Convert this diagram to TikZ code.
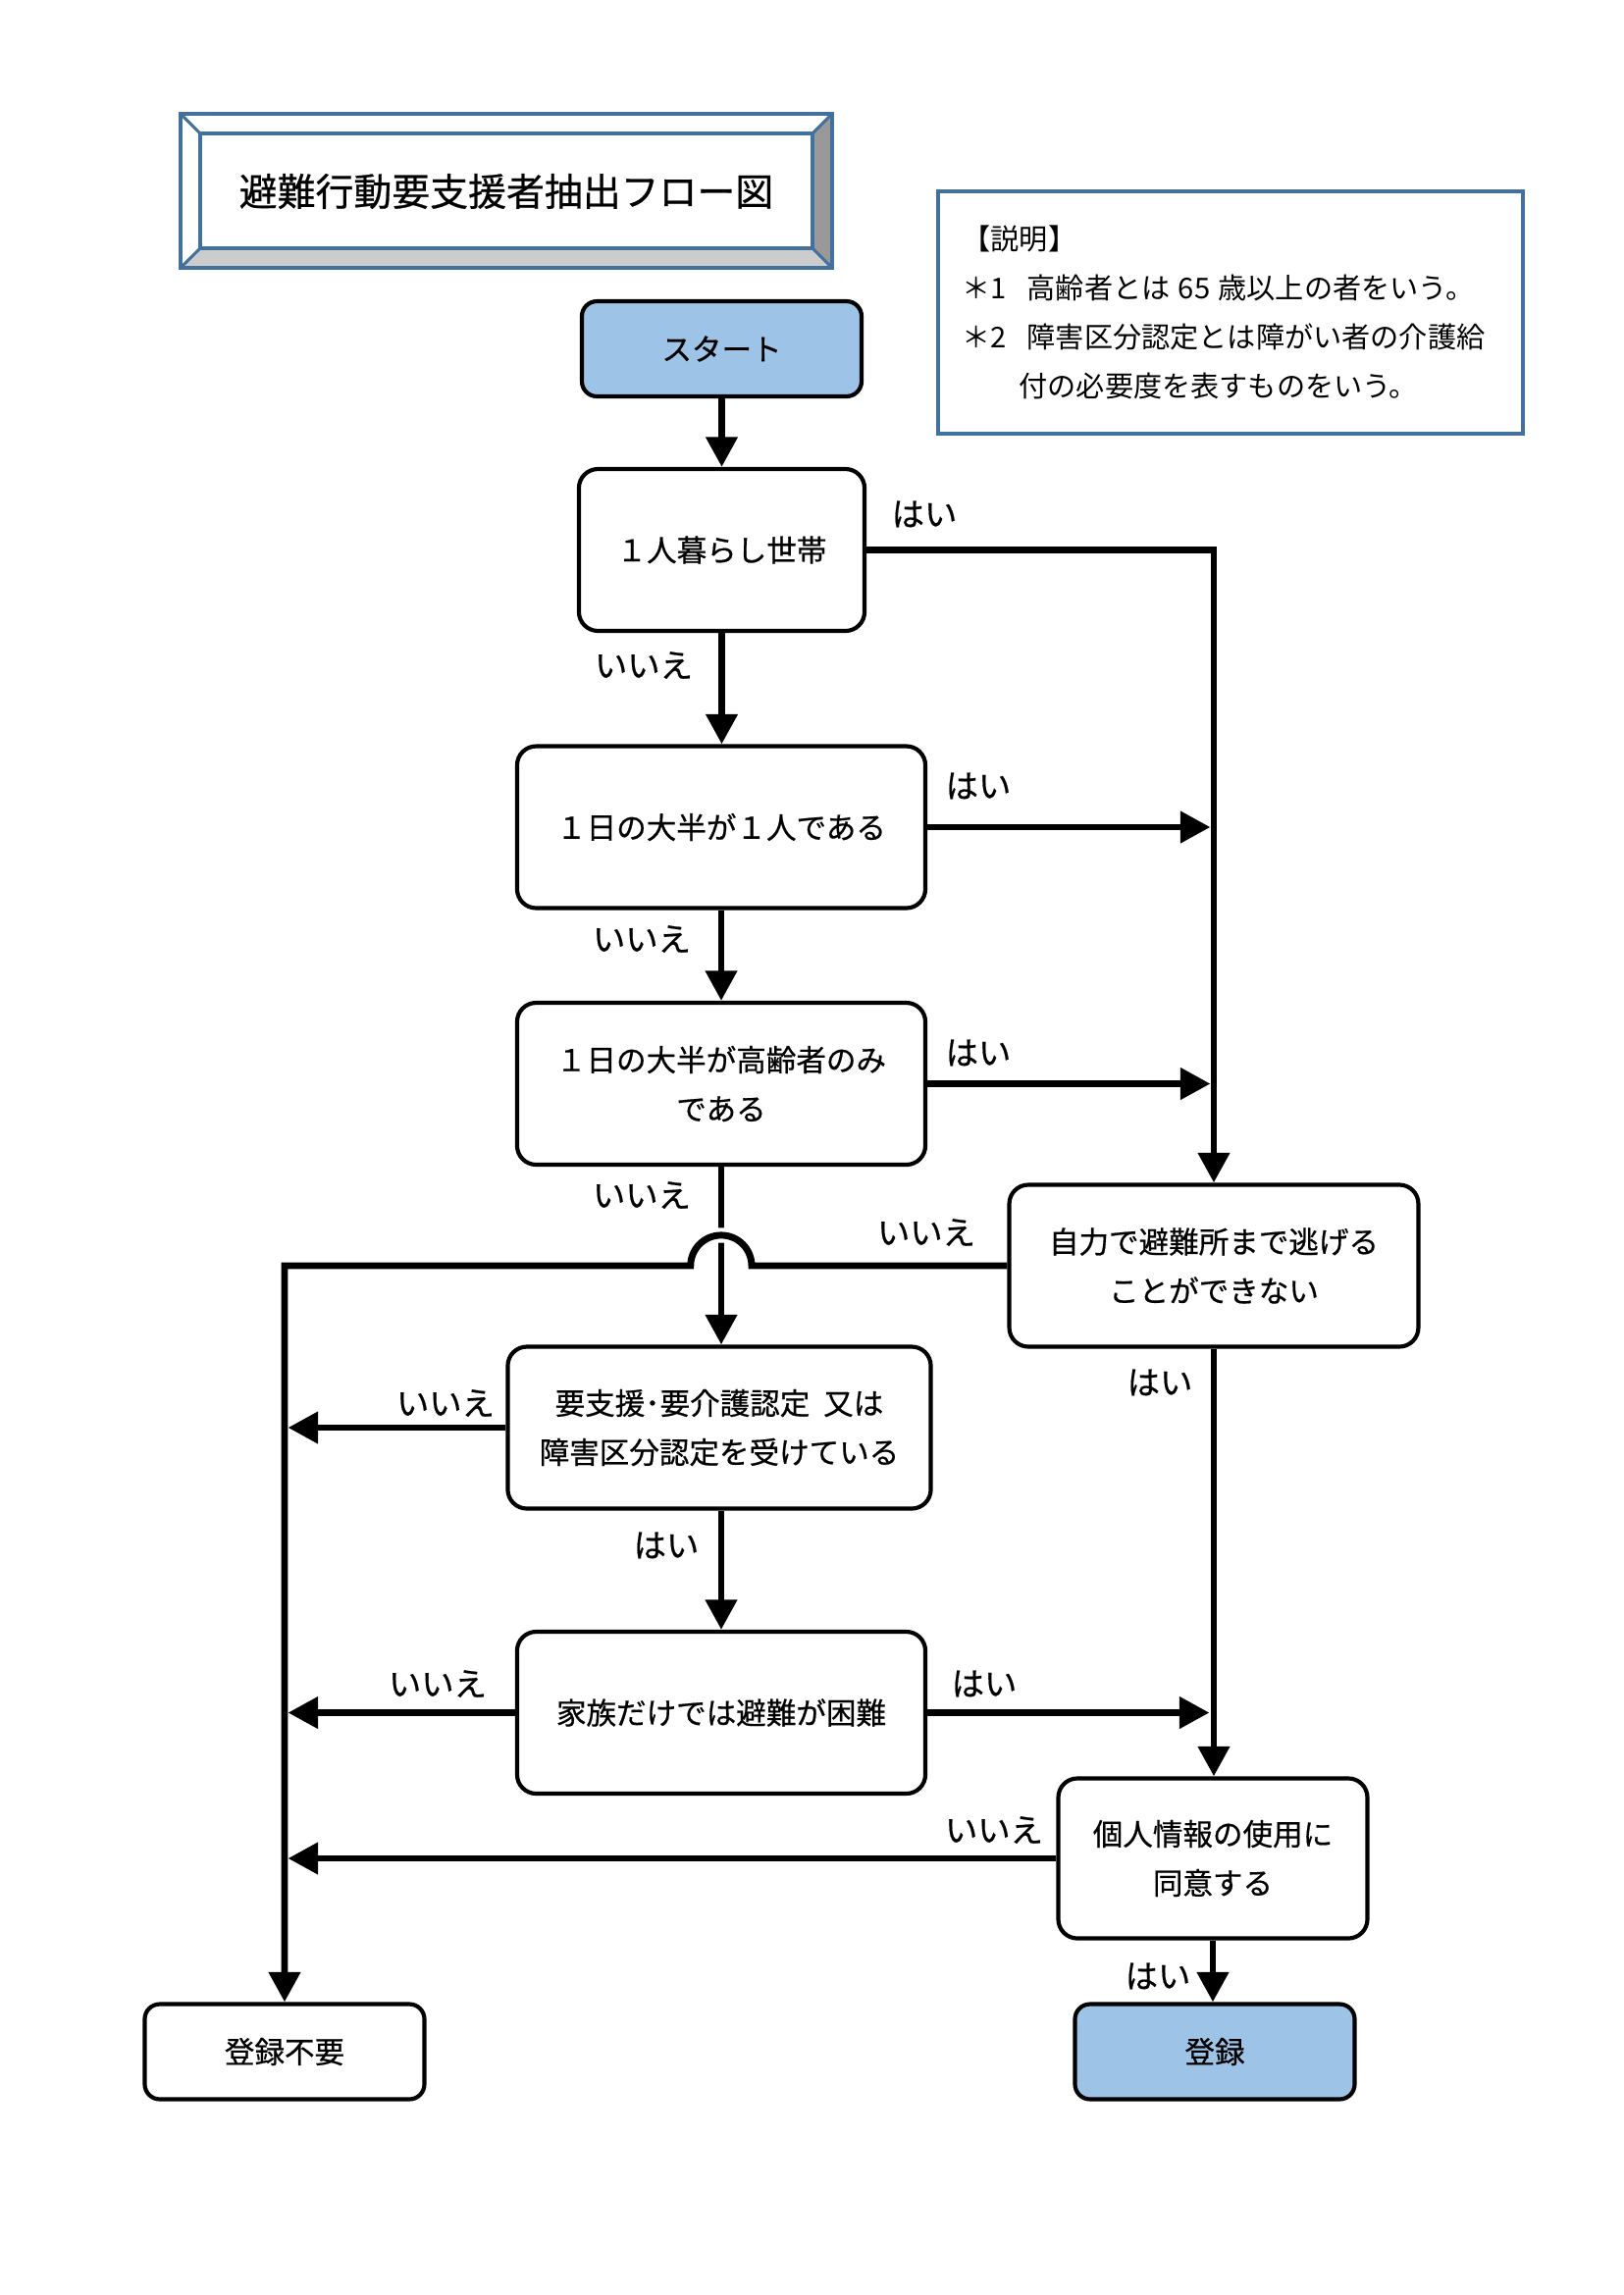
\documentclass[tikz,border=0pt]{standalone}
\usepackage{fontspec}
\setmainfont{Noto Sans CJK JP}
\newfontfamily\jpb[FakeBold=0.6]{Noto Sans CJK JP}
\usetikzlibrary{arrows.meta,calc}
\definecolor{bblue}{RGB}{65,113,156}
\definecolor{lblue}{RGB}{157,195,230}
\definecolor{bevR}{RGB}{153,153,153}
\definecolor{bevB}{RGB}{204,204,204}
\begin{document}
\begin{tikzpicture}[x=0.36pt,y=-0.36pt,
  box/.style={draw=black,line width=1.5pt,rounded corners=7pt,fill=white,align=center,inner sep=0pt,
    font=\jpb\fontsize{11pt}{18pt}\selectfont,minimum height=59.4pt},
  term/.style={box,rounded corners=5.5pt,minimum width=102.6pt,minimum height=34.9pt},
  conn/.style={line width=2.5pt,-{Triangle[width=11.2pt,length=11pt]}},
  wire/.style={line width=2.5pt},
  lab/.style={font=\jpb\fontsize{12pt}{14pt}\selectfont,inner sep=0pt},
  etext/.style={font=\fontsize{10.5pt}{13pt}\selectfont,inner sep=0pt,anchor=west}]
\useasboundingbox (0,0) rectangle (1654,2339);

% title box with bevel
\fill[white] (184,116) rectangle (848,273);
\fill[bevR] (848,116) -- (848,273) -- (828,253) -- (828,136) -- cycle;
\fill[bevB] (184,273) -- (848,273) -- (828,253) -- (204,253) -- cycle;
\draw[bblue,line width=1.1pt] (184,116) rectangle (848,273);
\draw[bblue,line width=1.1pt] (204,136) rectangle (828,253);
\draw[bblue,line width=1.1pt] (184,116) -- (204,136) (848,116) -- (828,136)
  (184,273) -- (204,253) (848,273) -- (828,253);
\node[font=\jpb\fontsize{14pt}{16pt}\selectfont,inner sep=0pt] (title) at (516,195) {避難行動要支援者抽出フロー図};

% explanation box
\node[draw=bblue,line width=1.5pt,minimum width=214.6pt,minimum height=88.9pt,inner sep=0pt] (expl) at (1254,318.5) {};
\node[etext] (e1) at (980,243) {【説明】};
\node[etext] (e2) at (980,293) {＊1\hspace{7.5pt}高齢者とは\hspace{3pt}65\hspace{3pt}歳以上の者をいう。};
\node[etext] (e3) at (980,343) {＊2\hspace{7.5pt}障害区分認定とは障がい者の介護給};
\node[etext] (e4) at (1038,393) {付の必要度を表すものをいう。};

% flow nodes
\node[term,fill=lblue] (start) at (735.5,355.5) {スタート};
\node[box,minimum width=104.8pt] (q1) at (735.5,560.5) {１人暮らし世帯};
\node[box,minimum width=149.8pt] (q2) at (735,843) {１日の大半が１人である};
\node[box,minimum width=149.8pt] (q3) at (735,1104.5) {１日の大半が高齢者のみ\\である};
\node[box,minimum width=150.1pt] (q4) at (1237,1290) {自力で避難所まで逃げる\\ことができない};
\node[box,minimum width=155.2pt] (q5) at (733,1455) {要支援･要介護認定\hspace{5pt}又は\\障害区分認定を受けている};
\node[box,minimum width=149.8pt] (q6) at (735,1745.5) {家族だけでは避難が困難};
\node[box,minimum width=113.4pt,minimum height=58.7pt] (q7) at (1236,1894) {個人情報の使用に\\同意する};
\node[term] (no) at (290,2091) {登録不要};
\node[term,fill=lblue] (yes) at (1238,2091) {登録};

% connectors
\draw[conn] (start.south) -- (start.south |- q1.north);
\draw[conn] (q1.south) -- (q1.south |- q2.north);
\draw[conn] (q2.south) -- (q2.south |- q3.north);
\draw[conn] (q1.east) -| (q4.north);
\draw[conn] (q2.east) -- ($(q2.east -| q4.north)+(-3.5,0)$);
\draw[conn] (q3.east) -- ($(q3.east -| q4.north)+(-3.5,0)$);
\draw[conn] (q3.south) -- (q3.south |- q5.north);
\coordinate (hop) at (q3.south |- q4.west);
\draw[white,line width=5.5pt] ($(hop)+(31,0)$) arc[start angle=0,end angle=180,radius=11.2pt];
\draw[conn] (q4.west) -- ($(hop)+(31,0)$) arc[start angle=0,end angle=180,radius=11.2pt]
  -- (no.north |- q4.west) -- (no.north);
\draw[conn] (q5.west) -- ($(q5.west -| no.north)+(3.5,0)$);
\draw[conn] (q5.south -| q3.south) -- (q3.south |- q6.north);
\draw[conn] (q6.west) -- ($(q6.west -| no.north)+(3.5,0)$);
\draw[conn] (q6.east) -- ($(q6.east -| q7.north)+(-3.5,0)$);
\draw[conn] (q4.south) -- (q4.south |- q7.north);
\draw[conn] (q7.west) -- ($(q7.west -| no.north)+(3.5,0)$);
\draw[conn] (q7.south) -- (q7.south |- yes.north);

% labels
\node[lab] (l1) at (942,524) {はい};
\node[lab] (l2) at (656,678) {いいえ};
\node[lab] (l3) at (997,801) {はい};
\node[lab] (l4) at (654,957) {いいえ};
\node[lab] (l5) at (997,1073) {はい};
\node[lab] (l6) at (654,1218) {いいえ};
\node[lab] (l7) at (944,1256) {いいえ};
\node[lab] (l8) at (1182,1409) {はい};
\node[lab] (l9) at (454,1430) {いいえ};
\node[lab] (l10) at (679,1575) {はい};
\node[lab] (l11) at (446,1716) {いいえ};
\node[lab] (l12) at (1003,1716) {はい};
\node[lab] (l13) at (1013,1865) {いいえ};
\node[lab] (l14) at (1180,2014) {はい};
\end{tikzpicture}
\end{document}
